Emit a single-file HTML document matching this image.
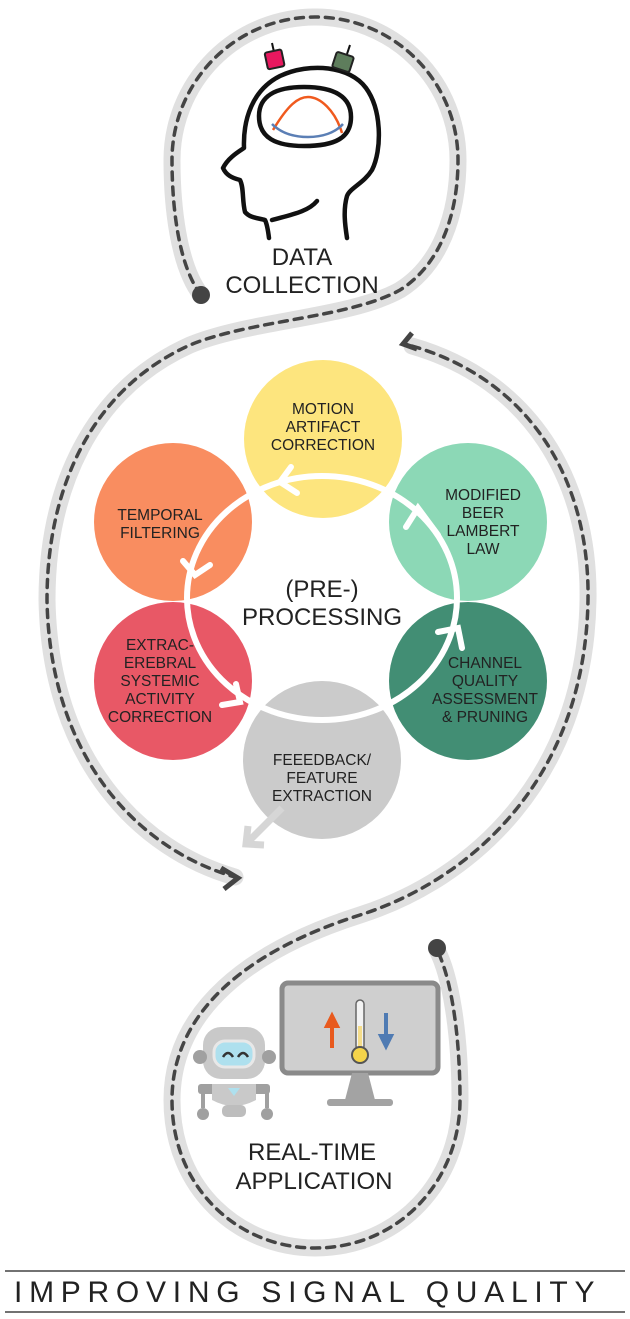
<!DOCTYPE html>
<html><head><meta charset="utf-8"><style>
html,body{margin:0;padding:0;background:#fff;}
svg{display:block}
text{font-family:"Liberation Sans",sans-serif;}
</style></head><body>
<svg width="630" height="1319" viewBox="0 0 630 1319" xmlns="http://www.w3.org/2000/svg">
<g fill="none" stroke-linecap="round">
<path d="M201,295 C178,265 172,205 172,160 A143,143 0 0 1 458,160 C458,215 440,265 400,290 C350,318 250,320 190,345 C90,390 47,490 47,600 C50,760 140,850 235,877" stroke="#e0e0e0" stroke-width="17"/>
<path d="M201,295 C178,265 172,205 172,160 A143,143 0 0 1 458,160 C458,215 440,265 400,290 C350,318 250,320 190,345 C90,390 47,490 47,600 C50,760 140,850 235,877" stroke="#444" stroke-width="3.5" stroke-dasharray="8 7"/>
<path d="M412,346 C530,380 590,480 588,600 C585,780 470,880 360,915 C250,950 172,1010 172,1100 C172,1190 240,1248 315,1248 C400,1248 460,1180 460,1100 C460,1030 450,975 437,950" stroke="#e0e0e0" stroke-width="17"/>
<path d="M412,346 C530,380 590,480 588,600 C585,780 470,880 360,915 C250,950 172,1010 172,1100 C172,1190 240,1248 315,1248 C400,1248 460,1180 460,1100 C460,1030 450,975 437,950" stroke="#444" stroke-width="3.5" stroke-dasharray="8 7"/>
</g>
<circle cx="201" cy="295" r="9" fill="#444"/>
<circle cx="437" cy="948" r="9" fill="#444"/>
<polyline points="412,333 403,344 417,349" fill="none" stroke="#444" stroke-width="5"/>
<polyline points="221,868 238,878 224,889" fill="none" stroke="#444" stroke-width="5"/>

<!-- head -->
<g fill="none" stroke="#111" stroke-width="4.5" stroke-linejoin="round" stroke-linecap="round">
<path d="M269,238 C268,230 267,224 265,220 C258,218 250,218 245,212 C242,200 244,188 240,180 C232,178 226,175 223,168 C228,158 238,152 244,148 C243,120 252,90 280,76 C310,62 350,66 366,88 C382,110 382,150 372,170 C364,183 350,188 347,196 C343,210 345,225 347,238"/>
<path d="M272,220 C290,215 308,212 317,201"/>
<path d="M259,116 C259,96 276,87 304,87 C335,87 351,97 351,117 C351,138 335,146 304,146 C276,146 259,138 259,116 Z"/>
</g>
<path d="M273,130 C288,105 298,97 308,97 C320,97 335,110 342,133" fill="none" stroke="#f05a1e" stroke-width="2.5"/>
<path d="M272,124 C282,134 296,137 308,137 C322,137 335,133 343,124" fill="none" stroke="#5b7fb5" stroke-width="2.5"/>
<line x1="272" y1="43" x2="274" y2="52" stroke="#111" stroke-width="2"/>
<line x1="350" y1="45" x2="347" y2="54" stroke="#111" stroke-width="2"/>
<rect x="266" y="51" width="17" height="17" rx="2" transform="rotate(-12 274 59)" fill="#e8185f" stroke="#222" stroke-width="2"/>
<rect x="334" y="54" width="18" height="16" rx="2" transform="rotate(18 343 62)" fill="#5e7d5c" stroke="#222" stroke-width="2"/>
<text x="302" y="265" font-size="24" text-anchor="middle" fill="#222">DATA</text>
<text x="302" y="293" font-size="24" text-anchor="middle" fill="#222">COLLECTION</text>

<!-- circles -->
<circle cx="323" cy="439" r="79" fill="#fde57e"/>
<circle cx="173" cy="522" r="79" fill="#f98d60"/>
<circle cx="468" cy="522" r="79" fill="#8cd8b6"/>
<circle cx="173" cy="681" r="79" fill="#e85866"/>
<circle cx="468" cy="681" r="79" fill="#428e74"/>
<circle cx="322" cy="760" r="79" fill="#cbcbcb"/>
<ellipse cx="322" cy="598" rx="135" ry="122" fill="none" stroke="#fff" stroke-width="6"/>
<g fill="none" stroke="#fff" stroke-width="6" stroke-linecap="round">
<polyline points="291,467 280,482 297,493"/>
<polyline points="183,561 195,575 210,565"/>
<polyline points="236,684 240,702 222,705"/>
<polyline points="438,535 418,508 406,527"/>
<polyline points="438,632 458,628 462,648"/>
</g>
<line x1="282" y1="808" x2="246" y2="844" stroke="#d6d6d6" stroke-width="7"/>
<polyline points="248,826 246,844 264,845" fill="none" stroke="#d6d6d6" stroke-width="7"/>
<g font-size="15.5" text-anchor="middle" fill="#222">
<text x="323" y="414">MOTION</text><text x="323" y="432">ARTIFACT</text><text x="323" y="450">CORRECTION</text>
<text x="160" y="520">TEMPORAL</text><text x="160" y="538">FILTERING</text>
<text x="483" y="500">MODIFIED</text><text x="483" y="518">BEER</text><text x="483" y="536">LAMBERT</text><text x="483" y="554">LAW</text>
<text x="160" y="650">EXTRAC-</text><text x="160" y="668">EREBRAL</text><text x="160" y="686">SYSTEMIC</text><text x="160" y="704">ACTIVITY</text><text x="160" y="722">CORRECTION</text>
<text x="485" y="668">CHANNEL</text><text x="485" y="686">QUALITY</text><text x="485" y="704">ASSESSMENT</text><text x="485" y="722">&amp; PRUNING</text>
<text x="322" y="765">FEEEDBACK/</text><text x="322" y="783">FEATURE</text><text x="322" y="801">EXTRACTION</text>
</g>
<text x="322" y="597" font-size="24" text-anchor="middle" fill="#222">(PRE-)</text>
<text x="322" y="625" font-size="24" text-anchor="middle" fill="#222">PROCESSING</text>

<!-- monitor -->
<rect x="282" y="983" width="156" height="90" rx="6" fill="#cfcfcf" stroke="#8a8a8a" stroke-width="5"/>
<path d="M352,1073 L345,1100 L375,1100 L368,1073 Z" fill="#a3a3a3"/>
<rect x="327" y="1099" width="66" height="7" rx="3" fill="#a3a3a3"/>
<rect x="356" y="1000" width="8" height="50" rx="4" fill="#f3f3f3" stroke="#666" stroke-width="1.5"/>
<rect x="358" y="1026" width="4" height="24" fill="#f5dd8a"/>
<circle cx="360" cy="1055" r="8" fill="#f5d44a" stroke="#555" stroke-width="2"/>
<path d="M332,1048 L332,1022 M327,1026 L332,1016 L337,1026 Z" stroke="#e85a1e" stroke-width="4" fill="#e85a1e"/>
<path d="M386,1013 L386,1040 M381,1036 L386,1046 L391,1036 Z" stroke="#4f7bb3" stroke-width="4" fill="#4f7bb3"/>
<!-- robot -->
<rect x="203" y="1027" width="62" height="52" rx="18" fill="#c9c9c9"/>
<circle cx="200" cy="1057" r="7" fill="#a0a0a0"/><circle cx="269" cy="1057" r="7" fill="#a0a0a0"/>
<rect x="214" y="1041" width="40" height="26" rx="11" fill="#aee0ee" stroke="#e8e8e8" stroke-width="3"/>
<path d="M223,1057 q5,-8 10,0 M238,1057 q5,-8 10,0" stroke="#333" stroke-width="2.5" fill="none"/>
<rect x="198" y="1084" width="72" height="10" rx="3" fill="#a0a0a0"/>
<rect x="201" y="1090" width="4" height="18" fill="#a0a0a0"/><rect x="265" y="1090" width="4" height="18" fill="#a0a0a0"/>
<circle cx="203" cy="1114" r="6" fill="#a0a0a0"/><circle cx="267" cy="1114" r="6" fill="#a0a0a0"/>
<path d="M212,1084 L256,1084 L256,1100 Q234,1112 212,1100 Z" fill="#c9c9c9"/>
<path d="M228,1088 L240,1088 L234,1096 Z" fill="#aee0ee"/>
<rect x="222" y="1105" width="24" height="12" rx="5" fill="#bdbdbd"/>
<text x="312" y="1160" font-size="24" text-anchor="middle" fill="#222">REAL-TIME</text>
<text x="314" y="1189" font-size="24" text-anchor="middle" fill="#222">APPLICATION</text>

<!-- title -->
<line x1="5" y1="1271" x2="625" y2="1271" stroke="#444" stroke-width="1.5"/>
<line x1="5" y1="1312" x2="625" y2="1312" stroke="#444" stroke-width="1.5"/>
<text x="14" y="1302" font-size="30" letter-spacing="9.5" fill="#222" textLength="590" lengthAdjust="spacing">IMPROVING SIGNAL QUALITY</text>
</svg>
</body></html>
